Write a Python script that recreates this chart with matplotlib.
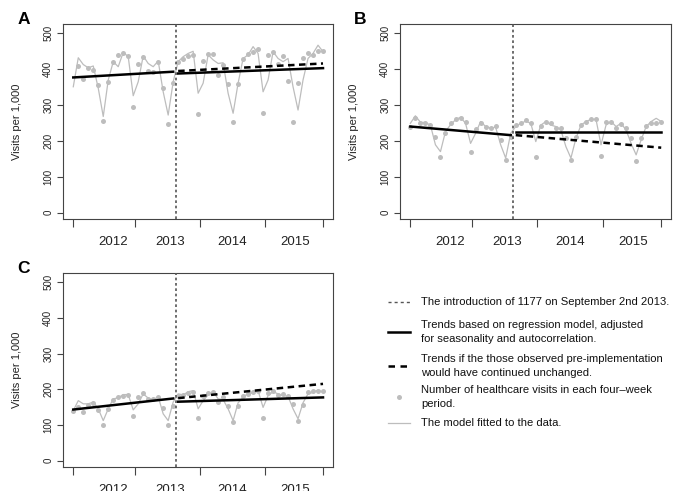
import numpy as np
import matplotlib
matplotlib.use("Agg")
import matplotlib.pyplot as plt
from matplotlib.lines import Line2D

plt.rcParams['font.family'] = ['Liberation Sans', 'DejaVu Sans']

# =============================
# DATA
# =============================

# four-week periods, 0..50; intervention between 20 and 21
periods = np.arange(0, 51)
intervention = 20.5

year_ticks = [0, 12.33, 25.33, 38.33, 50]
year_label_pos = [8.0, 19.3, 31.8, 44.5]
year_labels = ["2012", "2013", "2014", "2015"]
y_ticks = [0, 100, 200, 300, 400, 500]

# Panel A (first observed point not shown)
a_obs = [np.nan,
         410, 374, 404, 399, 355, 255, 365, 419, 440, 444, 437, 294, 415, 433, 395, 391, 419, 348, 247, 361,
         421, 429, 437, 441, 276, 424, 442, 442, 385, 413, 360, 254, 360, 429, 442, 449, 456, 277, 440, 449,
         414, 438, 367, 254, 361, 432, 444, 441, 452, 452]
a_fit = [351, 432, 413, 404, 409, 347, 268, 370, 421, 407, 447, 435, 326, 365, 437, 416, 407, 423, 337, 272, 365,
         421, 435, 444, 450, 333, 361, 440, 426, 416, 418, 333, 277, 361, 430, 440, 463, 444, 337, 370, 449,
         430, 421, 430, 351, 286, 370, 430, 444, 467, 449]
a_pre = [377, 393]
a_post = [388, 403]
a_cf = [395, 416]

# Panel B
b_obs = [240, 263, 251, 251, 244, 212, 156, 221, 249, 261, 263, 254, 170, 233, 249, 240, 235, 242, 203, 147, 212,
         244, 249, 258, 249, 155, 242, 254, 249, 235, 235, 207, 147, 212, 244, 254, 260, 260, 158, 254, 254,
         235, 246, 235, 207, 144, 207, 242, 251, 251, 254]
b_fit = [249, 270, 252, 251, 244, 189, 170, 226, 245, 259, 266, 249, 193, 221, 254, 240, 236, 238, 189, 152, 221,
         240, 249, 255, 249, 198, 244, 254, 244, 240, 230, 184, 152, 207, 244, 254, 260, 260, 189, 244, 254,
         240, 249, 230, 193, 161, 203, 240, 254, 263, 254]
b_pre = [240, 216]
b_post = [226, 226]
b_cf = [216, 181]

# Panel C
c_obs = [138, 151, 136, 156, 161, 143, 100, 145, 170, 179, 182, 183, 125, 179, 188, 173, 173, 179, 147, 101, 152,
         182, 184, 188, 193, 120, 182, 189, 193, 165, 177, 152, 108, 152, 182, 187, 193, 196, 119, 188, 196,
         184, 187, 182, 159, 110, 156, 191, 196, 196, 196]
c_fit = [140, 168, 159, 159, 164, 145, 112, 145, 173, 176, 185, 185, 142, 159, 187, 175, 170, 179, 131, 112, 164,
         187, 184, 193, 196, 145, 168, 184, 193, 173, 171, 145, 112, 162, 177, 189, 189, 196, 149, 182, 193,
         187, 182, 180, 145, 117, 162, 187, 191, 198, 191]
c_pre = [143, 174]
c_post = [165, 177]
c_cf = [175, 215]

pre_x = [0, 20]
post_x = [21, 50]

legend_labels = [
    "The introduction of 1177 on September 2nd 2013.",
    "Trends based on regression model, adjusted\nfor seasonality and autocorrelation.",
    "Trends if the those observed pre-implementation\nwould have continued unchanged.",
    "Number of healthcare visits in each four\u2013week\nperiod.",
    "The model fitted to the data.",
]

GRAY = "#bdbdbd"
DOT = (0, (1.6, 1.6))
DASH = (0, (2.6, 1.8))

# =============================
# FIGURE
# =============================

W, H = 673, 491
fig = plt.figure(figsize=(W / 100, H / 100), dpi=100)

axA = fig.add_axes([0.0936, 0.554, 0.4012, 0.397])
axB = fig.add_axes([0.5944, 0.554, 0.4030, 0.397])
axC = fig.add_axes([0.0936, 0.049, 0.4012, 0.395])


def draw_panel(ax, obs, fit, pre, post, cf, letter):
    ax.plot(periods, fit, color=GRAY, lw=0.9, zorder=2)
    ax.plot(periods, obs, "o", color=GRAY, ms=3.6, mec="none", zorder=3)
    ax.axvline(intervention, color="#555555", lw=1.2, ls=DOT, zorder=4)
    ax.plot(pre_x, pre, color="black", lw=1.8, zorder=5)
    ax.plot(post_x, post, color="black", lw=1.8, zorder=5)
    ax.plot(post_x, cf, color="black", lw=1.8, ls=DASH, zorder=5)

    ax.set_xlim(-2.06, 52)
    ax.set_ylim(-18, 526)

    ax.set_xticks(year_ticks)
    ax.set_xticklabels([])
    ax.set_xticks(year_label_pos, minor=True)
    ax.set_xticklabels(year_labels, minor=True, fontsize=9.5, color="#222222")
    ax.tick_params(axis="x", which="major", length=5.5, width=0.8, color="#444444")
    ax.tick_params(axis="x", which="minor", length=0, pad=12)

    ax.set_yticks(y_ticks)
    ax.set_yticklabels([str(v) for v in y_ticks], rotation=90, va="center",
                       fontsize=7, color="#222222")
    ax.tick_params(axis="y", length=4, width=0.8, color="#444444", pad=3)
    ax.set_ylabel("Visits per 1,000", fontsize=8, color="#222222", labelpad=15)

    for sp in ax.spines.values():
        sp.set_color("#444444")
        sp.set_linewidth(0.8)

    ax.text(-0.17, 1.06, letter, transform=ax.transAxes, fontsize=12.5,
            fontweight="bold", ha="left", va="top")


draw_panel(axA, a_obs, a_fit, a_pre, a_post, a_cf, "A")
draw_panel(axB, b_obs, b_fit, b_pre, b_post, b_cf, "B")
draw_panel(axC, c_obs, c_fit, c_pre, c_post, c_cf, "C")

# =============================
# LEGEND (drawn by hand, R style)
# =============================

key_styles = [
    dict(color="#555555", lw=1.0, ls=(0, (2.2, 2.2))),
    dict(color="black", lw=1.8),
    dict(color="black", lw=1.8, ls=(0, (2.6, 2.2))),
    dict(color=GRAY, marker="o", ms=3.6, mec="none", ls="none"),
    dict(color=GRAY, lw=0.9),
]
row_y = [302, 332, 366, 397, 423]
key_x0, key_x1, text_x = 388, 410, 421

for lab, style, yy in zip(legend_labels, key_styles, row_y):
    fy = 1 - yy / H
    if style.get("ls") == "none":
        xs = [(key_x0 + key_x1) / 2 / W]
        ys = [fy]
    else:
        xs = [key_x0 / W, key_x1 / W]
        ys = [fy, fy]
    fig.add_artist(Line2D(xs, ys, transform=fig.transFigure, **style))
    fig.text(text_x / W, fy, lab, fontsize=8.1, ha="left", va="center",
             linespacing=1.5, color="#111111")

fig.savefig("out.png", dpi=100)
